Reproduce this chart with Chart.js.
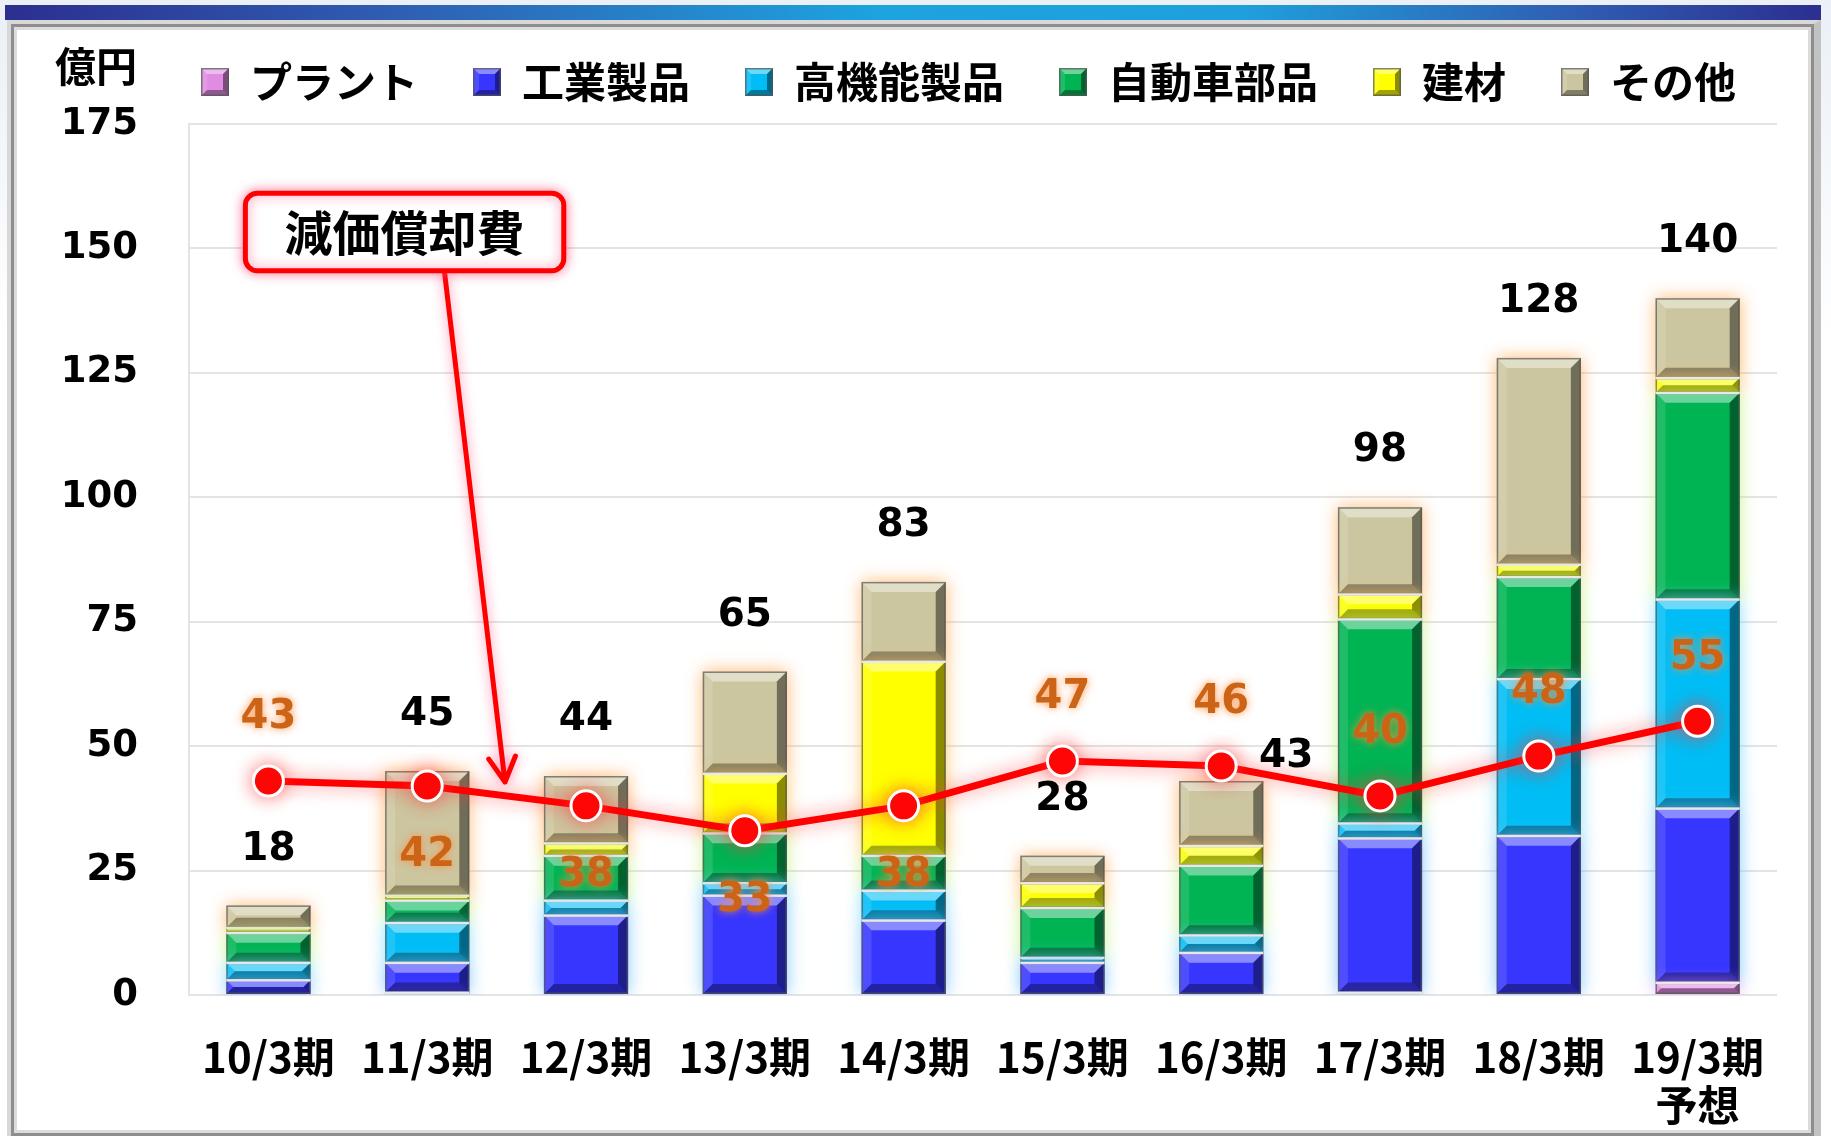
<!DOCTYPE html>
<html lang="ja">
<head>
<meta charset="utf-8">
<title>減価償却費</title>
<script src="https://cdn.jsdelivr.net/npm/chart.js@4.4.1/dist/chart.umd.min.js"></script>
<style>
  html, body { margin: 0; padding: 0; }
  body {
    width: 1831px; height: 1136px; overflow: hidden; position: relative;
    background: linear-gradient(to bottom, #eaf0f6, #ffffff 30%);
  }
  #topBar {
    position: absolute; left: 5px; top: 5px; width: 1816px; height: 15px;
    background: linear-gradient(to right, #2c2f8f 0%, #2f5fb3 22%, #1da3de 48%, #1fa0dc 68%, #2f5fb3 86%, #2c2f8f 100%);
  }
  #frame {
    position: absolute; left: 7px; top: 20px; width: 1814px; height: 1120px;
    box-sizing: border-box; background: #fff;
    border: 4px solid #d8d8d8; border-right-width: 7px; border-right-color: #c2c2c2;
    box-shadow: inset 0 0 0 3px #8e8e8e, inset 0 0 0 6px #dcdcdc;
  }
  #chart { position: absolute; left: 0; top: 0; }
</style>
</head>
<body>
<div id="topBar"></div>
<div id="frame"></div>
<canvas id="chart" width="1831" height="1136"></canvas>
<script>
const categories = ["10/3期", "11/3期", "12/3期", "13/3期", "14/3期", "15/3期", "16/3期", "17/3期", "18/3期", ["19/3期", "予想"]];

// 億円, stacked bottom -> top
const plant      = [0,   0.5, 0,    0,    0,  0,   0,   0.5,  0,    2.5];
const industrial = [3,   6,   16,   20,   15, 6.5, 8.5, 31,   32,   35];
const highPerf   = [3.5, 8,   3,    2.5,  6,  1,   3.5, 3,    31.5, 42];
const autoParts  = [6,   4.5, 9,    10,   7,  10,  14,  41,   20.5, 41.5];
const building   = [1,   1,   2.5,  12,   39, 5,   4,   5,    2.5,  3];
const other      = [4.5, 25,  13.5, 20.5, 16, 5.5, 13,  17.5, 41.5, 16];

const depreciation = [43, 42, 38, 33, 38, 47, 46, 40, 48, 55];

const seriesNames = ["プラント", "工業製品", "高機能製品", "自動車部品", "建材", "その他"];
const yMax = 175;
const yStep = 25;

const barSets = [plant, industrial, highPerf, autoParts, building, other];
const colors = ["#E08CE2", "#3636FF", "#00BEF5", "#00B454", "#FFFF00", "#CCC6A0"];
const glows = ["rgba(240,150,240,0.7)", "rgba(110,190,255,0.85)", "rgba(120,220,255,0.85)",
  "rgba(190,240,120,0.8)", "rgba(255,190,90,0.85)", "rgba(255,175,95,0.9)"];

// label placement: depreciation label above (1) or below (-1) its point
const depLabelSide = [1, -1, -1, -1, -1, 1, 1, 1, 1, 1];
const totalShift = { 6: [65, -24] };

const jp = '"Noto Sans CJK JP", sans-serif';
const num = '"DejaVu Sans", sans-serif';

function poly(ctx, pts, fill) {
  ctx.beginPath();
  ctx.moveTo(pts[0][0], pts[0][1]);
  for (let i = 1; i < pts.length; i++) ctx.lineTo(pts[i][0], pts[i][1]);
  ctx.closePath();
  ctx.fillStyle = fill;
  ctx.fill();
}

function bevelRect(ctx, l, t, w, h, depth) {
  const r = l + w, b = t + h;
  const d = Math.min(depth, h / 2, w / 2);
  poly(ctx, [[l, t], [r, t], [r - d, t + d], [l + d, t + d]], "rgba(255,255,255,0.42)");
  poly(ctx, [[l, t], [l + d, t + d], [l + d, b - d], [l, b]], "rgba(255,255,255,0.12)");
  poly(ctx, [[r, t], [r, b], [r - d, b - d], [r - d, t + d]], "rgba(0,0,0,0.45)");
  poly(ctx, [[l, b], [l + d, b - d], [r - d, b - d], [r, b]], "rgba(0,0,0,0.36)");
  ctx.strokeStyle = "rgba(85,85,85,0.7)";
  ctx.lineWidth = 1.5;
  ctx.strokeRect(l + 0.75, t + 0.75, w - 1.5, h - 1.5);
}

function bevelBars(chart, dsIndex, meta) {
  const { ctx } = chart;
  meta.data.forEach((el, j) => {
    const { x, y, base, width } = el.getProps(["x", "y", "base", "width"], true);
    const l = x - width / 2;
    const t = Math.min(y, base), b = Math.max(y, base);
    if (b - t < 0.5) return;
    bevelRect(ctx, l, t, width, b - t, 10);
    const topMost = !barSets.some((arr, k) => k > dsIndex && arr[j] > 0);
    if (!topMost) {
      ctx.fillStyle = "rgba(238,238,238,0.95)";
      ctx.fillRect(l, t - 1, width, 2.5);
    }
  });
}

const decorations = {
  id: "decorations",
  beforeLayout(chart) {
    const lg = chart.legend;
    if (lg && !lg.$tall) {
      const fit = lg.fit;
      lg.fit = function () { fit.call(this); this.height += 11; };
      lg.$tall = true;
    }
  },
  afterLayout(chart) {
    chart.legend.left = 146;
    chart.legend.right = 2400;
  },
  beforeDatasetDraw(chart, args) {
    const ds = chart.data.datasets[args.index];
    chart.ctx.save();
    chart.ctx.shadowColor = ds.glow;
    chart.ctx.shadowBlur = args.index < barSets.length ? 16 : 18;
  },
  afterDatasetDraw(chart, args) {
    chart.ctx.restore();
    if (args.index < barSets.length) {
      chart.ctx.save();
      bevelBars(chart, args.index, args.meta);
      chart.ctx.restore();
    }
  },
  afterDatasetsDraw(chart) {
    const { ctx, chartArea } = chart;
    const xs = chart.scales.x, ys = chart.scales.y;
    ctx.save();
    ctx.textAlign = "center";
    ctx.textBaseline = "middle";

    // totals
    ctx.font = "bold 39px " + num;
    ctx.fillStyle = "#000";
    categories.forEach((c, i) => {
      const total = barSets.reduce((s, arr) => s + arr[i], 0);
      const [dx, dy] = totalShift[i] || [0, -56];
      ctx.fillText(String(Math.round(total)), xs.getPixelForValue(i) + dx, ys.getPixelForValue(total) + dy);
    });

    // depreciation labels
    ctx.font = "bold 40px " + num;
    ctx.fillStyle = "#CC6418";
    ctx.shadowColor = "rgba(255,140,60,0.9)";
    ctx.shadowBlur = 9;
    depreciation.forEach((v, i) => {
      const off = depLabelSide[i] > 0 ? -63 : 70;
      ctx.fillText(String(v), xs.getPixelForValue(i), ys.getPixelForValue(v) + off);
    });
    ctx.shadowBlur = 0;

    // unit
    ctx.font = "bold 41px " + jp;
    ctx.fillStyle = "#000";
    ctx.textAlign = "right";
    ctx.fillText("億円", chartArea.left - 52, chartArea.top - 58);

    // callout box + arrow
    const bx1 = xs.getPixelForValue(-0.145), bx2 = xs.getPixelForValue(1.86);
    const by1 = ys.getPixelForValue(161.1), by2 = ys.getPixelForValue(145.5);
    const ax1 = xs.getPixelForValue(1.108), ay1 = by2;
    const ax2 = xs.getPixelForValue(1.49), ay2 = ys.getPixelForValue(42.8);
    ctx.shadowColor = "rgba(255,70,120,0.65)";
    ctx.shadowBlur = 12;
    ctx.strokeStyle = "#FF0000";
    ctx.lineWidth = 5;
    ctx.lineCap = "round";
    ctx.lineJoin = "round";
    ctx.beginPath();
    ctx.moveTo(ax1, ay1);
    ctx.lineTo(ax2, ay2);
    const ang = Math.atan2(ay2 - ay1, ax2 - ax1);
    const hl = 28, ha = 0.5;
    ctx.moveTo(ax2 - hl * Math.cos(ang - ha), ay2 - hl * Math.sin(ang - ha));
    ctx.lineTo(ax2, ay2);
    ctx.lineTo(ax2 - hl * Math.cos(ang + ha), ay2 - hl * Math.sin(ang + ha));
    ctx.stroke();

    ctx.beginPath();
    ctx.roundRect(bx1, by1, bx2 - bx1, by2 - by1, 12);
    ctx.fillStyle = "#fff";
    ctx.fill();
    ctx.stroke();
    ctx.shadowBlur = 0;
    ctx.font = "bold 48px " + jp;
    ctx.fillStyle = "#000";
    ctx.textAlign = "center";
    ctx.fillText("減価償却費", (bx1 + bx2) / 2, (by1 + by2) / 2 + 1);
    ctx.restore();
  },
  afterDraw(chart) {
    const lg = chart.legend;
    if (!lg || !lg.legendHitBoxes) return;
    const { ctx } = chart;
    const bw = lg.options.labels.boxWidth, bh = lg.options.labels.boxHeight;
    const ih = Math.max(lg.options.labels.font.size, bh);
    ctx.save();
    lg.legendHitBoxes.forEach((hb) => {
      bevelRect(ctx, hb.left, hb.top + (ih - bh) / 2, bw, bh, 6);
    });
    ctx.restore();
  }
};

const datasets = barSets.map((data, i) => ({
  type: "bar",
  label: seriesNames[i],
  data,
  backgroundColor: colors[i],
  borderWidth: 0,
  categoryPercentage: 0.53,
  barPercentage: 1,
  order: 1,
  glow: glows[i]
}));
datasets.push({
  type: "line",
  label: "減価償却費",
  data: depreciation,
  borderColor: "#FF0000",
  borderWidth: 7,
  pointRadius: 15,
  pointHoverRadius: 15,
  pointBackgroundColor: "#FF0000",
  pointBorderColor: "#FFFFFF",
  pointBorderWidth: 3,
  tension: 0,
  order: 0,
  glow: "rgba(255,60,60,0.65)"
});

new Chart(document.getElementById("chart"), {
  type: "bar",
  data: { labels: categories, datasets },
  options: {
    responsive: false,
    animation: false,
    layout: { padding: { top: 6, right: 54, bottom: 0, left: 0 } },
    scales: {
      x: {
        stacked: true,
        grid: { display: false },
        border: { display: false },
        ticks: {
          font: { family: jp, size: 42, weight: "bold", lineHeight: 1.14 },
          color: "#000",
          padding: 30,
          maxRotation: 0,
          autoSkip: false
        },
        afterFit(scale) { scale.height = 141; }
      },
      y: {
        stacked: true,
        min: 0,
        max: yMax,
        ticks: {
          stepSize: yStep,
          font: { family: num, size: 37, weight: "bold" },
          color: "#000",
          padding: 51
        },
        grid: { color: "#e4e4e4", lineWidth: 2, drawTicks: false },
        border: { display: true, color: "#e4e4e4", width: 2 },
        afterFit(scale) { scale.width = 189; }
      }
    },
    plugins: {
      legend: {
        position: "top",
        align: "start",
        labels: {
          font: { family: jp, size: 42, weight: "bold" },
          color: "#000",
          boxWidth: 28,
          boxHeight: 28,
          padding: 55,
          filter: (item) => item.datasetIndex < barSets.length
        }
      },
      tooltip: { enabled: false }
    }
  },
  plugins: [decorations]
});
</script>
</body>
</html>
